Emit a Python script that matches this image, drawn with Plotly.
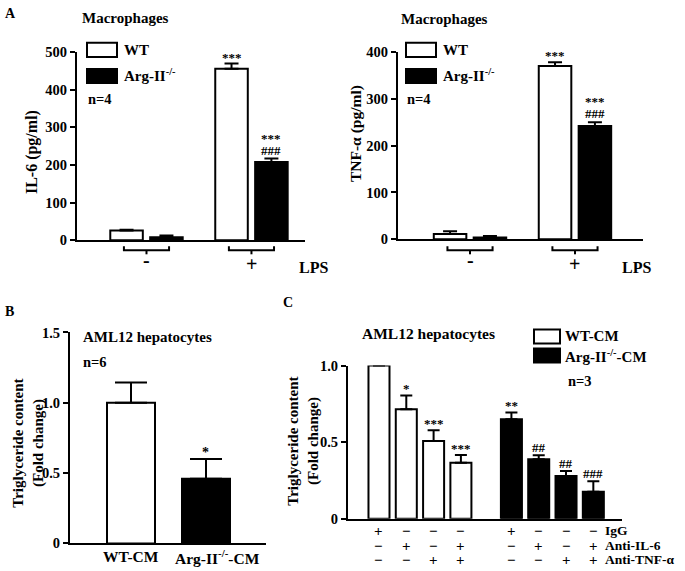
import plotly.graph_objects as go

W, H = 685, 571
# measured page mapping (body margin removed): screen_y = 8.2 + 0.970 * figure_y
def X(p): return p / W
def Y(p): return 1 - ((p - 8.2) / 0.970) / H

FONT = "Liberation Serif"

# ---------------- data ----------------
lps_groups = ["-", "+"]
il6_wt = [26, 455]
il6_wt_err = [2, 14]
il6_ko = [8, 208]
il6_ko_err = [5, 9]
il6_star_wt = ["", "***"]
il6_star_ko = ["", "***"]
il6_hash_ko = ["", "###"]

tnf_wt = [11, 370]
tnf_wt_err = [6, 8]
tnf_ko = [4, 242]
tnf_ko_err = [3, 8]
tnf_star_wt = ["", "***"]
tnf_star_ko = ["", "***"]
tnf_hash_ko = ["", "###"]

b_labels = ["WT-CM", "Arg-II<sup>-/-</sup>-CM"]
b_vals = [1.0, 0.46]
b_err = [0.145, 0.14]
b_sig = ["", "*"]

c_wt = [1.0, 0.715, 0.508, 0.366]
c_wt_err = [0.0, 0.09, 0.07, 0.05]
c_ko = [0.649, 0.388, 0.279, 0.176]
c_ko_err = [0.044, 0.026, 0.033, 0.07]
c_wt_sig = ["", "*", "***", "***"]
c_ko_sig = ["**", "##", "##", "###"]
c_rows = ["IgG", "Anti-IL-6", "Anti-TNF-α"]
c_igg = ["+", "−", "−", "−"]
c_il6 = ["−", "+", "−", "+"]
c_tnf = ["−", "−", "+", "+"]

# ---------------- figure ----------------
fig = go.Figure()
ann = []
shapes = []

def bar(x, y, err, color, xa, ya, width, capw=6):
    return go.Bar(
        x=x, y=y, width=width, xaxis=xa, yaxis=ya,
        marker=dict(color=color, line=dict(color="black", width=2)),
        error_y=dict(type="data", array=err, arrayminus=[0] * len(err), symmetric=False,
                     color="black", thickness=2, width=capw),
        cliponaxis=False, showlegend=False, offsetgroup=xa, hoverinfo="skip",
    )

def txt(x, y, s, size=14, xanchor="center", yanchor="middle", xref="paper", yref="paper", angle=0, yshift=0, xshift=0):
    ann.append(dict(x=x, y=y, text=s, xref=xref, yref=yref, showarrow=False,
                    xanchor=xanchor, yanchor=yanchor, textangle=angle, yshift=yshift, xshift=xshift,
                    font=dict(family=FONT, size=size, color="black", weight="bold")))

# Panel A (two)
half = 0.19
gx = list(range(len(lps_groups)))
for (wt, wte, ko, koe, swt, sko, hko, xa, ya) in [
    (il6_wt, il6_wt_err, il6_ko, il6_ko_err, il6_star_wt, il6_star_ko, il6_hash_ko, "x", "y"),
    (tnf_wt, tnf_wt_err, tnf_ko, tnf_ko_err, tnf_star_wt, tnf_star_ko, tnf_hash_ko, "x2", "y2"),
]:
    xw = [g - half for g in gx]
    xk = [g + half for g in gx]
    fig.add_trace(bar(xw, wt, wte, "white", xa, ya, 0.31, 7))
    fig.add_trace(bar(xk, ko, koe, "black", xa, ya, 0.31, 7))
    for i in gx:
        if swt[i]:
            txt(xw[i], wt[i] + wte[i], swt[i], 13, yanchor="bottom", xref=xa, yref=ya, yshift=-3)
        if hko[i]:
            txt(xk[i], ko[i] + koe[i], hko[i], 13, yanchor="bottom", xref=xa, yref=ya, yshift=-1)
            txt(xk[i], ko[i] + koe[i], sko[i], 13, yanchor="bottom", xref=xa, yref=ya, yshift=11)
    for i, g in enumerate(gx):
        shapes.append(dict(type="path", xref=xa, yref="paper",
                           path=f"M {g-0.215},{Y(246)} L {g-0.215},{Y(250)} L {g+0.215},{Y(250)} L {g+0.215},{Y(246)}",
                           line=dict(color="black", width=2)))
        shapes.append(dict(type="line", xref=xa, yref="paper", x0=g, x1=g, y0=Y(250), y1=Y(254),
                           line=dict(color="black", width=2)))
    txt(gx[0], Y(260), lps_groups[0], 20, xref=xa)
    txt(gx[1], Y(264), lps_groups[1], 20, xref=xa)

# Panel B
bx = list(range(len(b_vals)))
fig.add_trace(go.Bar(x=bx, y=b_vals, width=0.64, xaxis="x3", yaxis="y3",
                     marker=dict(color=["white", "black"], line=dict(color="black", width=2)),
                     error_y=dict(type="data", array=b_err, arrayminus=[0, 0], symmetric=False,
                                  color="black", thickness=2, width=16),
                     cliponaxis=False, showlegend=False, hoverinfo="skip"))
for i in bx:
    if b_sig[i]:
        txt(bx[i], b_vals[i] + b_err[i], b_sig[i], 14, yanchor="bottom", xref="x3", yref="y3", yshift=-3)
# category labels (the second one sits a little right of its bar in the original)
for i, lab in enumerate(b_labels):
    txt(bx[i], Y(556), lab, 15.5, xref="x3", xshift=(0 if i == 0 else 12))

# Panel C
cw = [i for i in range(len(c_wt))]
ck = [4.85 + i for i in range(len(c_ko))]
fig.add_trace(bar(cw, c_wt, c_wt_err, "white", "x4", "y4", 0.77, 6))
fig.add_trace(bar(ck, c_ko, c_ko_err, "black", "x4", "y4", 0.77, 6))
for i in range(4):
    if c_wt_sig[i]:
        txt(cw[i], c_wt[i] + c_wt_err[i], c_wt_sig[i], 13, yanchor="bottom", xref="x4", yref="y4", yshift=-3)
    txt(ck[i], c_ko[i] + c_ko_err[i], c_ko_sig[i], 13, yanchor="bottom", xref="x4", yref="y4", yshift=-2)
for row, signs, py in [(c_rows[0], c_igg, 530), (c_rows[1], c_il6, 545), (c_rows[2], c_tnf, 559)]:
    for i in range(4):
        txt(cw[i], Y(py), signs[i], 15, xref="x4")
        txt(ck[i], Y(py), signs[i], 15, xref="x4")
    txt(X(603), Y(py), row, 13.5, xanchor="left")

# Texts
txt(X(3), Y(14), "A", 14, xanchor="left")
txt(X(3), Y(311), "B", 14, xanchor="left")
txt(X(281), Y(302), "C", 14, xanchor="left")
txt(X(126), Y(18), "Macrophages", 15)
txt(X(444), Y(19), "Macrophages", 15)
txt(X(32), Y(152), "IL-6 (pg/ml)", 16, angle=-90)
txt(X(356), Y(134), "TNF-α (pg/ml)", 15.5, angle=-90)
txt(X(313), Y(267), "LPS", 16)
txt(X(636), Y(267), "LPS", 16)

# legends A
for lx in (87, 406):
    shapes.append(dict(type="rect", xref="paper", yref="paper", x0=X(lx), x1=X(lx + 30), y0=Y(57), y1=Y(43),
                       line=dict(color="black", width=2), fillcolor="white"))
    shapes.append(dict(type="rect", xref="paper", yref="paper", x0=X(lx), x1=X(lx + 30), y0=Y(83), y1=Y(69),
                       line=dict(color="black", width=2), fillcolor="black"))
    txt(X(lx + 35), Y(50), "WT", 15, xanchor="left")
    txt(X(lx + 35), Y(75), "Arg-II<sup>-/-</sup>", 15, xanchor="left")
    txt(X(lx - 1), Y(99), "n=4", 14.5, xanchor="left")

# B texts
txt(X(81), Y(337), "AML12 hepatocytes", 15, xanchor="left")
txt(X(81), Y(361), "n=6", 14.5, xanchor="left")
txt(X(29), Y(443), "Triglyceride content<br>(Fold change)", 15, angle=-90)

# C texts
txt(X(428), Y(333), "AML12 hepatocytes", 15.5)
txt(X(304), Y(441), "Triglyceride content<br>(Fold change)", 15, angle=-90)
shapes.append(dict(type="rect", xref="paper", yref="paper", x0=X(534), x1=X(560), y0=Y(343), y1=Y(329),
                   line=dict(color="black", width=2), fillcolor="white"))
shapes.append(dict(type="rect", xref="paper", yref="paper", x0=X(534), x1=X(560), y0=Y(362), y1=Y(348),
                   line=dict(color="black", width=2), fillcolor="black"))
txt(X(563), Y(336), "WT-CM", 15, xanchor="left")
txt(X(563), Y(355), "Arg-II<sup>-/-</sup>-CM", 15, xanchor="left")
txt(X(566), Y(380), "n=3", 14.5, xanchor="left")

axis_common = dict(showline=True, linewidth=2, linecolor="black", showgrid=False, zeroline=False,
                   ticks="outside", ticklen=5, tickwidth=2, tickcolor="black",
                   tickfont=dict(family=FONT, size=14.5, color="black", weight="bold"))
xcommon = dict(showline=True, linewidth=2, linecolor="black", showgrid=False, zeroline=False, ticks="",
               showticklabels=False)

fig.update_layout(
    width=W, height=H, autosize=False, margin=dict(l=0, r=0, t=0, b=0),
    paper_bgcolor="white", plot_bgcolor="white", barmode="overlay",
    font=dict(family=FONT, color="black"),
    xaxis=dict(domain=[X(77), X(305)], range=[-0.662, 1.51], anchor="y", **xcommon),
    yaxis=dict(domain=[Y(240), Y(52)], range=[0, 500], anchor="x", tickvals=[0, 100, 200, 300, 400, 500], **axis_common),
    xaxis2=dict(domain=[X(398), X(643)], range=[-0.686, 1.648], anchor="y2", **xcommon),
    yaxis2=dict(domain=[Y(239), Y(52)], range=[0, 400], anchor="x2", tickvals=[0, 100, 200, 300, 400], **axis_common),
    xaxis3=dict(domain=[X(70), X(266)], range=[-0.813, 1.8], anchor="y3", **xcommon),
    yaxis3=dict(domain=[Y(542.5), Y(332)], range=[0, 1.5], anchor="x3", tickvals=[0, 0.5, 1.0, 1.5],
                ticktext=["0", "0.5", "1.0", "1.5"], **axis_common),
    xaxis4=dict(domain=[X(348), X(622)], range=[-1.135, 8.9], anchor="y4", **xcommon),
    yaxis4=dict(domain=[Y(518), Y(365)], range=[0, 1.0], anchor="x4", tickvals=[0, 0.5, 1.0],
                ticktext=["0", "0.5", "1.0"], **axis_common),
    annotations=ann, shapes=shapes,
)

fig.write_html("out.html", config={"responsive": False, "displayModeBar": False},
               post_script="document.body.style.margin='0';")
